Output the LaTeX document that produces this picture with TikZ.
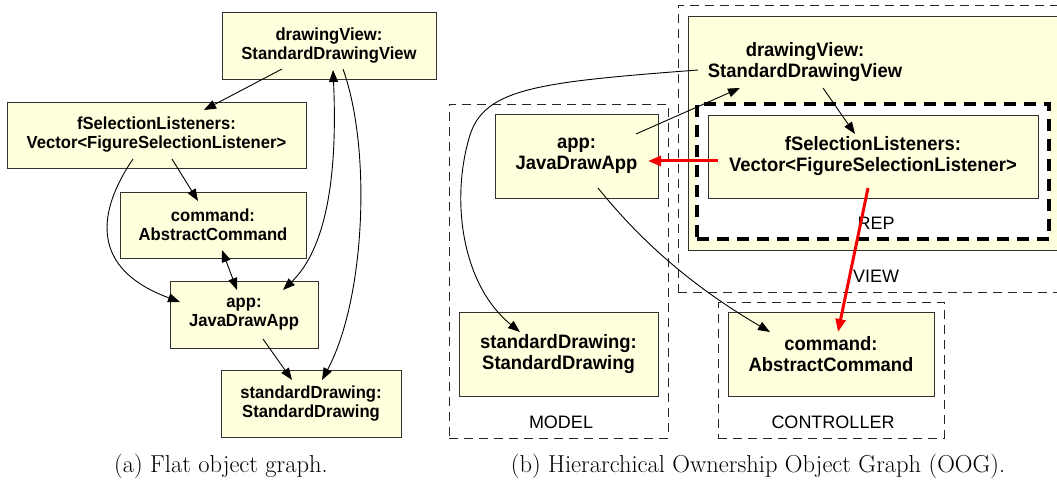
\documentclass[tikz,border=0pt]{standalone}
\usepackage{fontspec}
\setsansfont{Liberation Sans}
\newfontfamily\boxfont[FakeStretch=0.95]{Liberation Sans}
\usetikzlibrary{arrows.meta,calc}
\definecolor{objfill}{RGB}{255,255,222}
\definecolor{objline}{RGB}{50,50,50}
\definecolor{refred}{RGB}{245,0,0}
\begin{document}
\begin{tikzpicture}[x=1pt,y=-1pt,
  obj/.style={draw=objline, fill=objfill, line width=0.9pt, inner sep=0pt, align=center,
    font=\boxfont\bfseries\fontsize{17.5}{19}\selectfont},
  objb/.style={obj, font=\boxfont\bfseries\fontsize{19.4}{21}\selectfont},
  grp/.style={draw=black!85, line width=0.9pt, dash pattern=on 9pt off 6pt, inner sep=0pt},
  repbox/.style={draw=black, fill=white, line width=3.5pt, dash pattern=on 12pt off 8pt, inner sep=0pt},
  lbl/.style={font=\sffamily\fontsize{18}{21}\selectfont, inner sep=0pt},
  captext/.style={font=\rmfamily\fontsize{24.5}{29}\selectfont, inner sep=0pt},
  conn/.style={draw=black, line width=0.9pt, -{Triangle[length=12pt,width=9pt]}},
  conn2/.style={draw=black, line width=0.9pt, {Triangle[length=12pt,width=9pt]}-{Triangle[length=12pt,width=9pt]}},
  redconn/.style={draw=refred, line width=3pt, -{Triangle[length=13pt,width=10pt]}}
]
\useasboundingbox (0,0) rectangle (1057,481);
\clip (0,0) rectangle (1057,481);

% ---------- (a) flat object graph ----------
\node[obj, minimum width=214pt, minimum height=67pt] (aDV) at (329,45.5) {drawingView:\\StandardDrawingView};
\node[obj, minimum width=299pt, minimum height=66pt] (aFS) at (156.5,135) {fSelectionListeners:\\Vector<FigureSelectionListener>};
\node[obj, minimum width=186pt, minimum height=66pt] (aCmd) at (213,225) {command:\\AbstractCommand};
\node[obj, minimum width=148pt, minimum height=67pt] (aApp) at (244,314.5) {app:\\JavaDrawApp};
\node[obj, minimum width=180pt, minimum height=67pt] (aSD) at (311,403.5) {standardDrawing:\\StandardDrawing};

\draw[conn] ($(aDV.center)+(-47,23.5)$) -- ($(aFS.center)+(47.5,-25)$);
\draw[conn] ($(aFS.center)+(15.5,24)$) -- ($(aCmd.center)+(-15,-24)$);
\draw[conn] ($(aFS.center)+(-23.5,24)$) .. controls (105,200) and (80,265) .. ($(aApp.center)+(-64,-12.5)$);
\draw[conn2] ($(aCmd.center)+(9,25)$) -- ($(aApp.center)+(-7,-24.5)$);
\draw[conn2] ($(aDV.center)+(4,24.5)$) .. controls (338,180) and (325,250) .. ($(aApp.center)+(39,-24.5)$);
\draw[conn] ($(aDV.center)+(14,23.5)$) .. controls (372,150) and (365,300) .. ($(aSD.center)+(11,-23.5)$);
\draw[conn] ($(aApp.center)+(19,24.5)$) -- ($(aSD.center)+(-19,-23.5)$);

\node[captext] (capa) at (221,466) {(a) Flat object graph.};

% ---------- (b) hierarchical OOG ----------
\node[grp, minimum width=219pt, minimum height=334pt] (model) at (558.5,271) {};
\node[lbl] (modelL) at (561,422) {MODEL};
\node[grp, minimum width=422pt, minimum height=287pt] (view) at (889,148.5) {};
\node[obj, minimum width=402pt, minimum height=234pt] (bDVbox) at (889,133) {};
\node[repbox, minimum width=352pt, minimum height=135pt] (rep) at (873,171.5) {};
\node[lbl] (repL) at (876,223) {REP};
\node[lbl] (viewL) at (876,276) {VIEW};
\node[grp, minimum width=226pt, minimum height=136pt] (ctrl) at (831,370) {};
\node[lbl] (ctrlL) at (833,422) {CONTROLLER};

\node[objb, minimum width=163pt, minimum height=84pt] (bApp) at (576.5,156) {app:\\JavaDrawApp};
\node[objb, minimum width=199pt, minimum height=84pt] (bSD) at (558.5,354) {standardDrawing:\\StandardDrawing};
\node[objb, draw=none, fill=none] (bDV) at (805,62) {drawingView:\\StandardDrawingView};
\node[objb, minimum width=330pt, minimum height=83pt] (bFS) at (873,156.5) {fSelectionListeners:\\Vector<FigureSelectionListener>};
\node[objb, minimum width=206pt, minimum height=84pt] (bCmd) at (831,354) {command:\\AbstractCommand};

\draw[conn] ($(bDV.center)+(-107,8)$) .. controls (540,82) and (485,88) .. (470,135)
   .. controls (450,200) and (462,285) .. ($(bSD.center)+(-38.5,-22)$);
\draw[conn] ($(bApp.center)+(59.5,-22)$) -- ($(bDV.center)+(-65,26)$);
\draw[conn] ($(bDV.center)+(18,26)$) -- ($(bFS.center)+(-18,-22.5)$);
\draw[conn] ($(bApp.center)+(21.5,32)$) .. controls (640,240) and (690,285) .. ($(bCmd.center)+(-61,-22)$);
\draw[redconn] ($(bFS.center)+(-155,4.5)$) -- ($(bApp.center)+(71.5,5)$);
\draw[redconn] ($(bFS.center)+(-5,31.5)$) -- ($(bCmd.center)+(7,-22)$);

\node[captext] (capb) at (758,466) {(b) Hierarchical Ownership Object Graph (OOG).};
\end{tikzpicture}
\end{document}
